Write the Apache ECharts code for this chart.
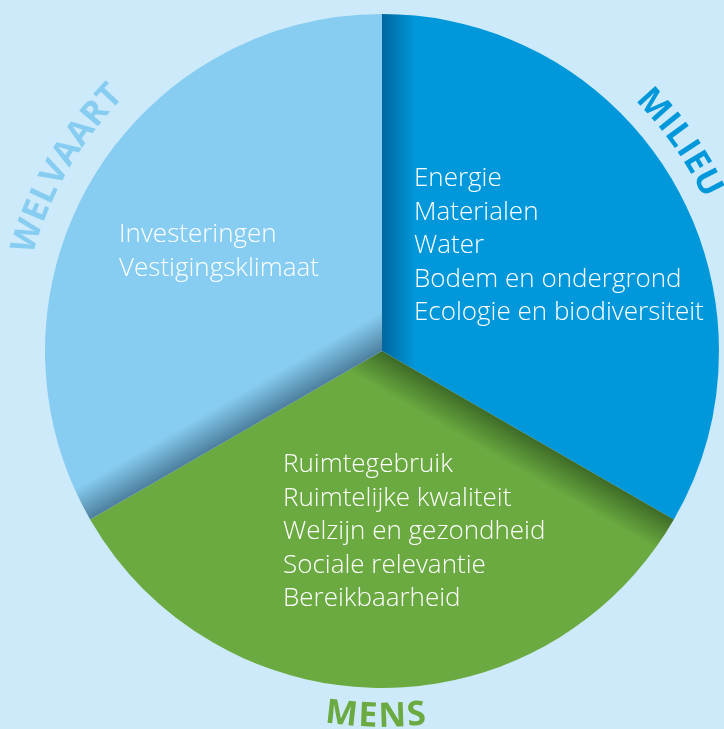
<!DOCTYPE html>
<html>
<head>
<meta charset="utf-8">
<script src="https://cdn.jsdelivr.net/npm/echarts@6/dist/echarts.min.js"></script>
<style>
  html, body { margin: 0; padding: 0; background: #cdeafb; }
  #chart { width: 724px; height: 729px; }
</style>
</head>
<body>
<div id="chart"></div>
<script>
// pillars of the pie, clockwise from 12 o'clock
const categories = ["MILIEU", "MENS", "WELVAART"];
const values = [1, 1, 1];
const themes = [
  ["Energie", "Materialen", "Water", "Bodem en ondergrond", "Ecologie en biodiversiteit"],
  ["Ruimtegebruik", "Ruimtelijke kwaliteit", "Welzijn en gezondheid", "Sociale relevantie", "Bereikbaarheid"],
  ["Investeringen", "Vestigingsklimaat"],
];
const colors = ["#0098db", "#6aaa40", "#87cdf1"];
const shadeColors = ["#00679f", "#3e6b27", "#4d7f9e"];

const cx = 382, cy = 351, R = 337;
const shadeW = 34;
// top-left corner of each text block
const labelPos = [[414, 162], [283, 448], [119, 218]];
// outer curved titles: centre angle (deg, screen), radius, direction
const titleArc = [
  { angle: -35, r: 366, cw: true },
  { angle: 91, r: 366, cw: false },
  { angle: 210, r: 372, cw: true },
];

function shade(i) {
  // edge angle where the slice starts (screen degrees, clockwise)
  const edge = [-90, 30, 150][i] * Math.PI / 180;
  const nx = -Math.sin(edge), ny = Math.cos(edge);
  return {
    type: "linear", global: true,
    x: cx, y: cy, x2: cx + nx * shadeW, y2: cy + ny * shadeW,
    colorStops: [
      { offset: 0, color: shadeColors[i] },
      { offset: 1, color: colors[i] },
    ],
  };
}

const titleFont = "bold 34px 'Open Sans'";
const measureCtx = document.createElement("canvas").getContext("2d");
measureCtx.font = titleFont;

function arcText(word, conf, color) {
  const spacing = 1;
  const widths = word.split("").map((ch) => measureCtx.measureText(ch).width + spacing);
  const total = widths.reduce((a, b) => a + b, 0);
  const sign = conf.cw ? 1 : -1;
  let pos = -total / 2;
  const base = conf.angle * Math.PI / 180;
  return word.split("").map((ch, k) => {
    const mid = pos + widths[k] / 2;
    pos += widths[k];
    const th = base + sign * mid / conf.r;
    const rot = conf.cw ? -(th + Math.PI / 2) : Math.PI / 2 - th;
    return {
      type: "text",
      x: cx + conf.r * Math.cos(th),
      y: cy + conf.r * Math.sin(th),
      rotation: rot,
      silent: true,
      style: {
        text: ch, font: titleFont, fill: color,
        align: "center", verticalAlign: "middle",
      },
    };
  });
}

const myChart = echarts.init(document.getElementById("chart"));

const graphics = [];
categories.forEach((c, i) => graphics.push(...arcText(c, titleArc[i], colors[i])));

myChart.setOption({
  backgroundColor: "#cdeafb",
  animation: false,
  graphic: graphics,
  series: [
    {
      type: "pie",
      center: [cx, cy],
      radius: R,
      startAngle: 90,
      clockwise: true,
      silent: true,
      labelLine: { show: false },
      label: {
        show: true,
        position: "inside",
        color: "#fff",
        fontFamily: "Open Sans",
        fontWeight: 300,
        fontSize: 26,
        lineHeight: 33.5,
        align: "left",
        formatter: (p) => themes[p.dataIndex].join("\n"),
      },
      labelLayout: (p) => ({
        x: labelPos[p.dataIndex][0],
        y: labelPos[p.dataIndex][1],
        align: "left",
        verticalAlign: "top",
      }),
      data: categories.map((c, i) => ({
        name: c,
        value: values[i],
        itemStyle: { color: shade(i) },
      })),
    },
  ],
});
</script>
</body>
</html>
